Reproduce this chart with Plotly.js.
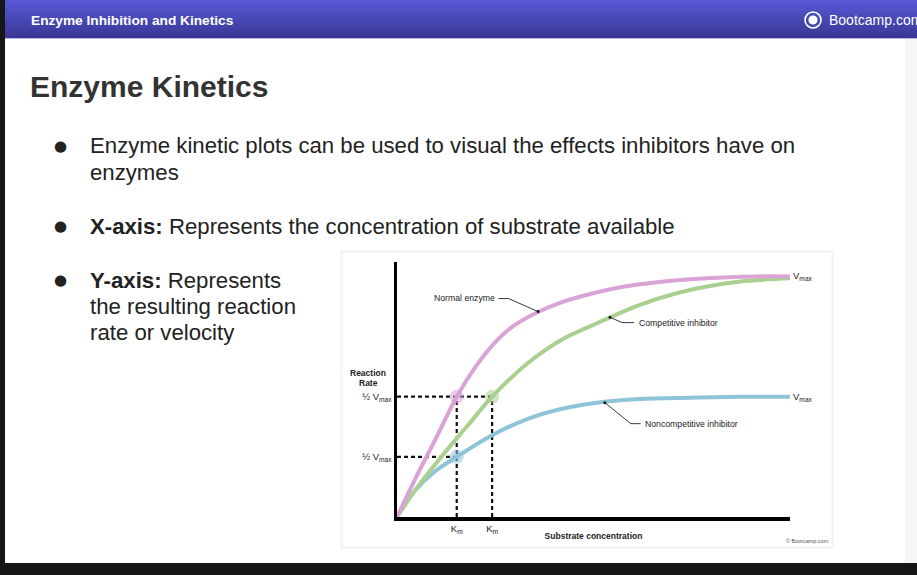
<!DOCTYPE html>
<html><head><meta charset="utf-8">
<script src="https://cdn.plot.ly/plotly-3.0.1.min.js"></script>
<style>html,body{margin:0;padding:0;background:#fff;overflow:hidden}#chart{width:917px;height:575px}</style>
</head><body><div id="chart"></div><script>
// ---- data ----
const substrate_normal = [0, 5, 10, 15.2, 19.8, 24.9, 29.3, 35.9, 42, 50.4, 57.5, 66.2, 74.6, 83, 91.6, 100];
const rate_normal      = [0, 17, 33, 50, 62, 72.5, 79, 85.2, 89.3, 93.2, 95.7, 97.6, 98.8, 99.6, 100, 100];
const substrate_competitive = [0, 5, 11.5, 18, 24.2, 33.3, 42, 50.4, 54.2, 61.8, 70.2, 78.9, 87.3, 100];
const rate_competitive      = [0, 12, 25.5, 38, 50, 64, 73.8, 80.2, 83, 88.2, 92.6, 95.8, 97.9, 99.2];
const substrate_noncomp = [0, 4.6, 9.7, 15.2, 24.2, 33.3, 42, 50.4, 61.8, 74.6, 87.3, 100];
const rate_noncomp      = [0, 11, 19, 25, 34, 40.8, 45, 47.4, 49, 49.6, 50, 50];
const km_values   = [15.2, 24.2];          // Km normal, Km competitive
const half_vmax   = [50, 25];              // ½Vmax normal/competitive, ½Vmax noncompetitive
const vmax_values = [100, 50];
const km_labels   = ["K<sub>m</sub>", "K<sub>m</sub>"];
const half_labels = ["½ V<sub>max</sub>", "½ V<sub>max</sub>"];
const series_names = ["Normal enzyme", "Competitive inhibitor", "Noncompetitive inhibitor"];

(function () {
const W = 917, H = 575;
const PX = x => x / W, PY = y => 1 - y / H;
const FONT = "Liberation Sans, Arial, sans-serif";
const PINK = "#d9a3d6", GREEN = "#a9d08e", BLUE = "#8ec4d8";

// ---- traces ----
const traces = [];
function dash(xs, ys) {
  traces.push({x: xs, y: ys, mode: "lines", hoverinfo: "skip", showlegend: false,
    line: {color: "#111", width: 2.2, dash: "4px,3px"}});
}
dash([0, km_values[1]], [half_vmax[0], half_vmax[0]]);
dash([0, km_values[0]], [half_vmax[1], half_vmax[1]]);
dash([km_values[0], km_values[0]], [0, half_vmax[0]]);
dash([km_values[1], km_values[1]], [0, half_vmax[0]]);

traces.push({x: substrate_noncomp, y: rate_noncomp, name: series_names[2], mode: "lines",
  line: {color: BLUE, width: 4, shape: "spline", smoothing: 1}, showlegend: false});
traces.push({x: substrate_competitive, y: rate_competitive, name: series_names[1], mode: "lines",
  line: {color: GREEN, width: 4, shape: "spline", smoothing: 1}, showlegend: false});
traces.push({x: substrate_normal, y: rate_normal, name: series_names[0], mode: "lines",
  line: {color: PINK, width: 4, shape: "spline", smoothing: 1}, showlegend: false});

// highlight circles at (Km, ½Vmax)
traces.push({x: [km_values[0], km_values[1], km_values[0]], y: [half_vmax[0], half_vmax[0], half_vmax[1]],
  mode: "markers", showlegend: false, hoverinfo: "skip",
  marker: {size: 14, color: [PINK, GREEN, BLUE], opacity: 0.55, line: {width: 0}}});

// ---- layout pieces ----
const shapes = [];
const annotations = [];
shapes.push({type: "rect", xref: "paper", yref: "paper", x0: 0, x1: PX(5), y0: 0, y1: 1, fillcolor: "#161616", line: {width: 0}, layer: "below"});
shapes.push({type: "rect", xref: "paper", yref: "paper", x0: 0, x1: 1, y0: 0, y1: PY(563), fillcolor: "#161616", line: {width: 0}, layer: "below"});
shapes.push({type: "rect", xref: "paper", yref: "paper", x0: PX(905), x1: 1, y0: PY(563), y1: PY(39), fillcolor: "#f6f6f6", line: {width: 0}, layer: "below"});
// header gradient
const cTop = [86, 88, 212], cBot = [58, 56, 150];
for (let i = 0; i < 19; i++) {
  const t = i / 18;
  const c = cTop.map((v, k) => Math.round(v + (cBot[k] - v) * t));
  shapes.push({type: "rect", xref: "paper", yref: "paper", x0: PX(5), x1: 1, y0: PY(2 * i + 2), y1: PY(2 * i),
    fillcolor: `rgb(${c[0]},${c[1]},${c[2]})`, line: {width: 0}, layer: "below"});
}
shapes.push({type: "line", xref: "paper", yref: "paper", x0: PX(5), x1: 1, y0: PY(38.5), y1: PY(38.5), line: {color: "#b9b8e6", width: 1}, layer: "below"});
// logo
shapes.push({type: "circle", xref: "paper", yref: "paper", x0: PX(805), x1: PX(821), y0: PY(28), y1: PY(12), line: {color: "#fff", width: 1.6}, fillcolor: "rgba(0,0,0,0)", layer: "below"});
shapes.push({type: "circle", xref: "paper", yref: "paper", x0: PX(809), x1: PX(817), y0: PY(24), y1: PY(16), line: {color: "#fff", width: 1.2}, fillcolor: "#fff", layer: "below"});
// chart card with soft shadow
shapes.push({type: "rect", xref: "paper", yref: "paper", x0: PX(340), x1: PX(834), y0: PY(549), y1: PY(250), fillcolor: "#f6f6f6", line: {width: 0}, layer: "below"});
shapes.push({type: "rect", xref: "paper", yref: "paper", x0: PX(342), x1: PX(832), y0: PY(547), y1: PY(252), fillcolor: "#ffffff", line: {color: "#f0f0f0", width: 1}, layer: "below"});

// leader lines (data coords)
function leader(pts) {
  for (let i = 0; i < pts.length - 1; i++) {
    shapes.push({type: "line", xref: "x", yref: "y", x0: pts[i][0], y0: pts[i][1], x1: pts[i + 1][0], y1: pts[i + 1][1],
      line: {color: "#222", width: 0.9}});
  }
}
leader([[25.8, 90.8], [28.4, 90.8], [35.9, 85.4]]);
leader([[54.2, 83.0], [57.3, 80.8], [60.3, 80.8]]);
leader([[52.9, 47.5], [59.5, 38.8], [62.0, 38.8]]);
traces.push({x: [35.9, 54.2, 52.9], y: [85.4, 83.0, 47.5], mode: "markers", showlegend: false, hoverinfo: "skip",
  marker: {size: 3, color: "#111"}});

function A(text, x, y, size, opts) {
  annotations.push(Object.assign({text: text, x: x, y: y, xref: "paper", yref: "paper", showarrow: false,
    xanchor: "left", yanchor: "middle", font: {family: FONT, size: size, color: "#222"}}, opts || {}));
}
A("<b>Enzyme Inhibition and Kinetics</b>", PX(29), PY(20), 13.7, {font: {family: FONT, size: 13.7, color: "#fff"}});
A("Bootcamp.com", PX(827), PY(20), 14, {font: {family: FONT, size: 14, color: "#fff"}});
A("<b>Enzyme Kinetics</b>", PX(28), PY(87), 30, {font: {family: FONT, size: 30, color: "#333"}});
const bulletY = [146, 226, 280];
bulletY.forEach(y => A("●", PX(52), PY(y), 15, {font: {family: "DejaVu Sans, sans-serif", size: 15, color: "#222"}}));
const BS = 22.2;
A("Enzyme kinetic plots can be used to visual the effects inhibitors have on", PX(88), PY(146), BS);
A("enzymes", PX(88), PY(172), BS);
A("<b>X-axis:</b> Represents the concentration of substrate available", PX(88), PY(226), BS);
A("<b>Y-axis:</b> Represents", PX(88), PY(280), BS);
A("the resulting reaction", PX(88), PY(306), BS);
A("rate or velocity", PX(88), PY(332), BS);

A("<b>Reaction</b>", PX(368), PY(373), 8.5, {xanchor: "center", font: {family: FONT, size: 8.5, color: "#222"}});
A("<b>Rate</b>", PX(368), PY(383), 8.5, {xanchor: "center", font: {family: FONT, size: 8.5, color: "#222"}});
A("© Bootcamp.com", PX(831), PY(541), 5.5, {xanchor: "right", font: {family: FONT, size: 5.5, color: "#555"}});
function D(text, x, y, opts) {
  annotations.push(Object.assign({text: text, x: x, y: y, xref: "x", yref: "y", showarrow: false,
    xanchor: "left", yanchor: "middle", font: {family: FONT, size: 8.7, color: "#222"}}, opts || {}));
}
D(series_names[0], 25.4, 91.2, {xanchor: "right"});
D(series_names[1], 61.0, 80.6);
D(series_names[2], 62.6, 38.6);
vmax_values.forEach(v => D("V<sub>max</sub>", 100, v, {xshift: 1, font: {family: FONT, size: 9.5, color: "#222"}}));

const layout = {
  width: W, height: H,
  margin: {l: 0, r: 0, t: 0, b: 0, pad: 0},
  paper_bgcolor: "#ffffff", plot_bgcolor: "rgba(0,0,0,0)",
  showlegend: false,
  xaxis: {domain: [PX(397), PX(790)], range: [0, 100], showgrid: false, zeroline: false,
    showline: true, linecolor: "#000", linewidth: 3.5, ticks: "",
    tickvals: km_values, ticktext: km_labels, tickfont: {family: FONT, size: 9.5, color: "#222"},
    title: {text: "<b>Substrate concentration</b>", font: {family: FONT, size: 8.5, color: "#222"}, standoff: 0},
    fixedrange: true},
  yaxis: {domain: [PY(517), PY(262)], range: [0, 106], showgrid: false, zeroline: false,
    showline: true, linecolor: "#000", linewidth: 3.5, ticks: "",
    tickvals: half_vmax, ticktext: half_labels, tickfont: {family: FONT, size: 9.5, color: "#222"},
    fixedrange: true},
  shapes: shapes,
  annotations: annotations
};
Plotly.newPlot("chart", traces, layout, {staticPlot: true, displayModeBar: false});
})();
</script></body></html>
